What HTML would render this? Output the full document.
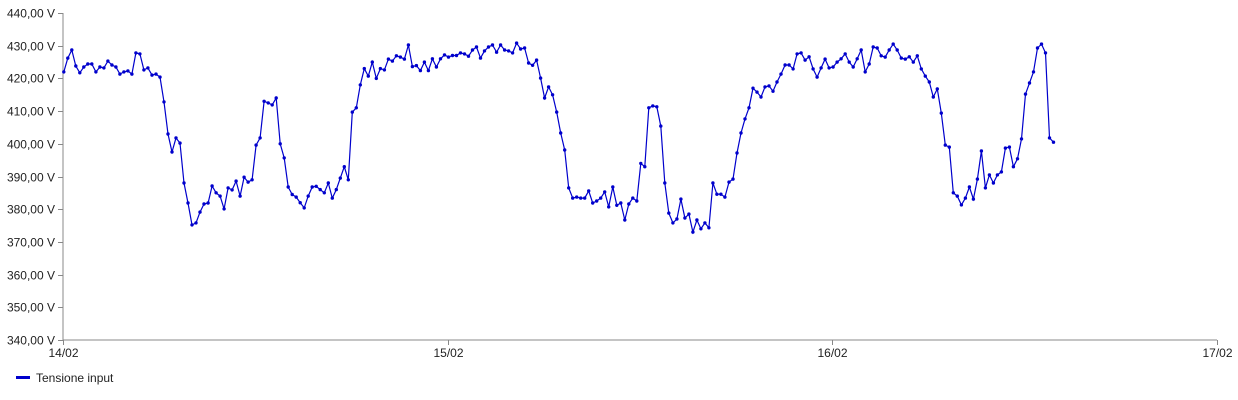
<!DOCTYPE html>
<html><head><meta charset="utf-8"><style>
body{margin:0;background:#fff;}
svg{display:block;font-family:"Liberation Sans",Arial,sans-serif;}
</style></head><body>
<svg id="chart" width="1238" height="400" xmlns="http://www.w3.org/2000/svg">
<g id="axes"></g>
<g id="series"></g>
<g>
<line x1="16" y1="377.5" x2="30" y2="377.5" stroke="#0000cc" stroke-width="3"/>
<text x="36" y="382" font-size="12" fill="#222">Tensione input</text>
</g>
</svg>
<script>
const yTicks = [340,350,360,370,380,390,400,410,420,430,440];
const xTickDays = [0,1,2,3];
const xTickLabels = ["14/02","15/02","16/02","17/02"];
const startHour = 0.05;
const stepHours = 0.25;
const values = [422,426.2,428.7,423.8,421.7,423.5,424.4,424.4,422,423.5,423.2,425.3,424.1,423.5,421.3,422,422.3,421.3,427.8,427.5,422.6,423.2,421,421.3,420.4,412.8,403,397.5,401.8,400.2,388,381.9,375.2,375.8,379.1,381.6,381.9,387.1,385,384,380.1,386.5,385.9,388.6,384,389.8,388.3,389,399.6,401.8,413,412.5,411.9,414,400,395.7,386.8,384.5,383.7,382,380.4,384,386.8,387,386,385,388,383.4,386,389.5,393,389,409.7,411,418,423,420.7,425,420,423,422.6,425.9,425.3,426.9,426.5,425.9,430.2,423.6,423.9,422.4,425,422.4,426,423.5,426,427.2,426.5,427,427,427.8,427.5,426.8,428.7,429.6,426.2,428.4,429.6,430.2,428,430.2,428.7,428.4,427.8,430.8,429,429.3,424.7,424,425.6,420.1,414,417.4,415,409.7,403.3,398.1,386.5,383.4,383.7,383.4,383.4,385.6,381.9,382.5,383.4,385.3,380.7,386.8,381.2,381.9,376.7,381.6,383.4,
382.5,394,393,411,411.6,411.3,405.4,388,378.8,375.8,377,383.1,377.3,378.5,373,376.7,374,375.8,374.3,388,384.6,384.6,383.7,388.3,389.2,397.2,403.3,407.6,411,417,415.8,414.3,417.4,417.7,416.1,418.9,421.3,424.1,424.1,422.9,427.5,427.8,425.6,426.6,422.9,420.4,423.2,425.9,423.2,423.5,425,426,427.5,425,423.5,426,428.7,422,424.4,429.6,429.3,426.9,426.5,428.7,430.5,428.7,426.2,425.9,426.6,425,426.9,422.9,420.7,418.9,414.3,416.8,409.4,399.6,399,385,384,381.3,383.4,386.8,383.1,389.2,397.8,386.5,390.5,388,390.5,391.4,398.7,399,393,395.4,401.5,415.2,418.6,422,429.3,430.5,427.8,401.8,400.5];

const NS="http://www.w3.org/2000/svg";
const X0=63,X1=1217,Y0=340,Y1=13;
function xScale(h){return X0+(h/72)*(X1-X0);}
function yScale(v){return Y0-(v-340)/100*(Y0-Y1);}
function mk(tag,attrs,parent){const e=document.createElementNS(NS,tag);for(const k in attrs)e.setAttribute(k,attrs[k]);parent.appendChild(e);return e;}
const axes=document.getElementById('axes');
const ya=mk('line',{x1:X0,y1:Y1,x2:X0,y2:Y0,stroke:'#888','stroke-width':1},axes);


const xa=mk('line',{x1:X0,y1:Y0,x2:X1,y2:Y0,stroke:'#888','stroke-width':1},axes);


yTicks.forEach(v=>{
  const y=Math.round(yScale(v))+0.5;
  const t=mk('line',{x1:X0-5,y1:y,x2:X0,y2:y,stroke:'#888'},axes);
  
  
  const l=mk('text',{x:X0-8,y:y+4,'font-size':12,fill:'#222','text-anchor':'end'},axes);
  l.textContent=v.toFixed(2).replace('.',',')+' V';
  
  
});
xTickDays.forEach((d,i)=>{
  const x=Math.round(xScale(d*24))+0.5;
  const t=mk('line',{x1:x,y1:Y0,x2:x,y2:Y0+5,stroke:'#888'},axes);
  
  
  const l=mk('text',{x:x,y:Y0+17,'font-size':12,fill:'#222','text-anchor':'middle'},axes);
  l.textContent=xTickLabels[i];
  
  
});
const series=document.getElementById('series');
const pts=values.map((v,i)=>[xScale(startHour+i*stepHours),yScale(v)]);
const pl=mk('polyline',{points:pts.map(p=>p[0].toFixed(1)+','+p[1].toFixed(1)).join(' '),fill:'none',stroke:'#0000cc','stroke-width':1.2},series);


pts.forEach(p=>{
  const c=mk('circle',{cx:p[0].toFixed(1),cy:p[1].toFixed(1),r:1.7,fill:'#0000cc'},series);
  
  
});
</script>
</body></html>
